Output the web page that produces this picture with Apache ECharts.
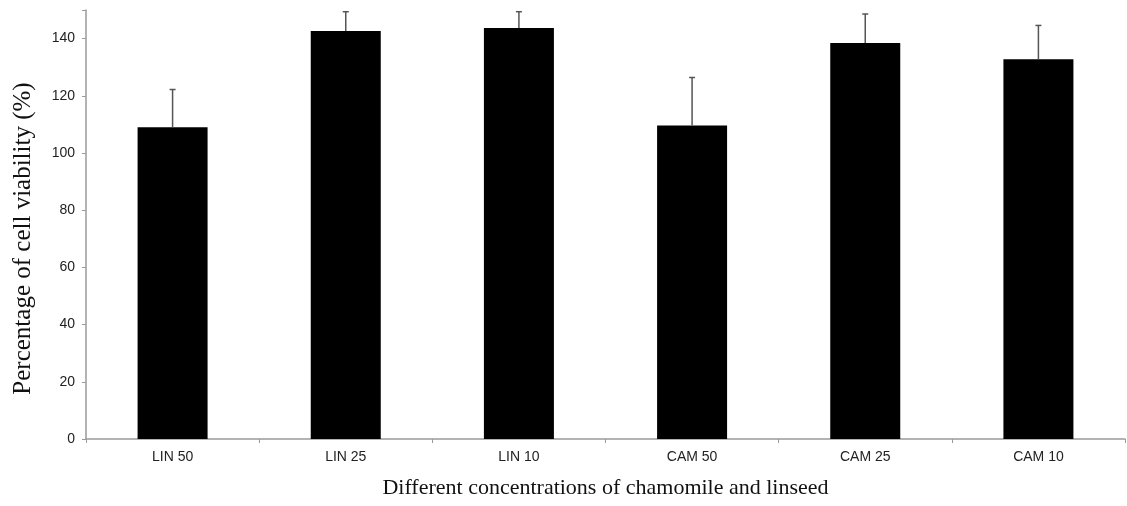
<!DOCTYPE html>
<html>
<head>
<meta charset="utf-8">
<script src="https://cdn.jsdelivr.net/npm/echarts@6/dist/echarts.min.js"></script>
<style>
  html, body { margin: 0; padding: 0; background: #fff; }
  #chart { width: 1127px; height: 506px; }
</style>
</head>
<body>
<div id="chart"></div>
<script>
const categories = ['LIN 50', 'LIN 25', 'LIN 10', 'CAM 50', 'CAM 25', 'CAM 10'];
const viability = [109.0, 142.7, 143.7, 109.6, 138.5, 132.8];
const errors = [13.2, 6.7, 5.7, 16.8, 10.1, 11.8];
const yTicks = [0, 20, 40, 60, 80, 100, 120, 140];

let chart = echarts.init(document.getElementById('chart'));

const axisGrey = '#9a9a9a';

const chartOptions = {
  animation: false,
  grid: { left: 86, right: 2, top: 10, bottom: 67, outerBoundsMode: 'none', containLabel: false },
  xAxis: {
    type: 'category',
    data: categories,
    name: 'Different concentrations of chamomile and linseed',
    nameLocation: 'middle',
    nameGap: 38,
    nameTextStyle: { fontFamily: 'Liberation Serif', fontSize: 22, color: '#111' },
    axisLine: { lineStyle: { color: axisGrey, width: 1.5 } },
    axisTick: { show: true, length: 4, lineStyle: { color: axisGrey } },
    axisLabel: { fontFamily: 'Liberation Sans', fontSize: 14, color: '#222', margin: 11 }
  },
  yAxis: {
    type: 'value',
    min: 0,
    max: 150,
    interval: 20,
    name: 'Percentage of cell viability (%)',
    nameLocation: 'middle',
    nameGap: 50,
    nameTextStyle: { fontFamily: 'Liberation Serif', fontSize: 25, color: '#111', padding: [0, 28, 0, 0] },
    axisLine: { show: true, lineStyle: { color: axisGrey, width: 1.5 } },
    axisTick: { show: true, length: 4, lineStyle: { color: axisGrey } },
    splitLine: { show: false },
    axisLabel: {
      fontFamily: 'Liberation Sans', fontSize: 14, color: '#222', margin: 11,
      formatter: function (v) { return yTicks.indexOf(v) >= 0 ? String(v) : ''; }
    }
  },
  series: [
    {
      type: 'bar',
      data: viability,
      barWidth: 70,
      itemStyle: { color: '#000' }
    },
    {
      type: 'custom',
      data: viability.map(function (v, i) { return [i, v, v + errors[i]]; }),
      renderItem: function (params, api) {
        const base = api.coord([api.value(0), api.value(1)]);
        const top = api.coord([api.value(0), api.value(2)]);
        const style = { stroke: '#555', lineWidth: 1.5 };
        return {
          type: 'group',
          children: [
            { type: 'line', shape: { x1: base[0], y1: base[1], x2: top[0], y2: top[1] }, style: style },
            { type: 'line', shape: { x1: top[0] - 3, y1: top[1], x2: top[0] + 3, y2: top[1] }, style: style }
          ]
        };
      },
      z: 5
    }
  ]
};
chart.setOption(chartOptions);
</script>
</body>
</html>
